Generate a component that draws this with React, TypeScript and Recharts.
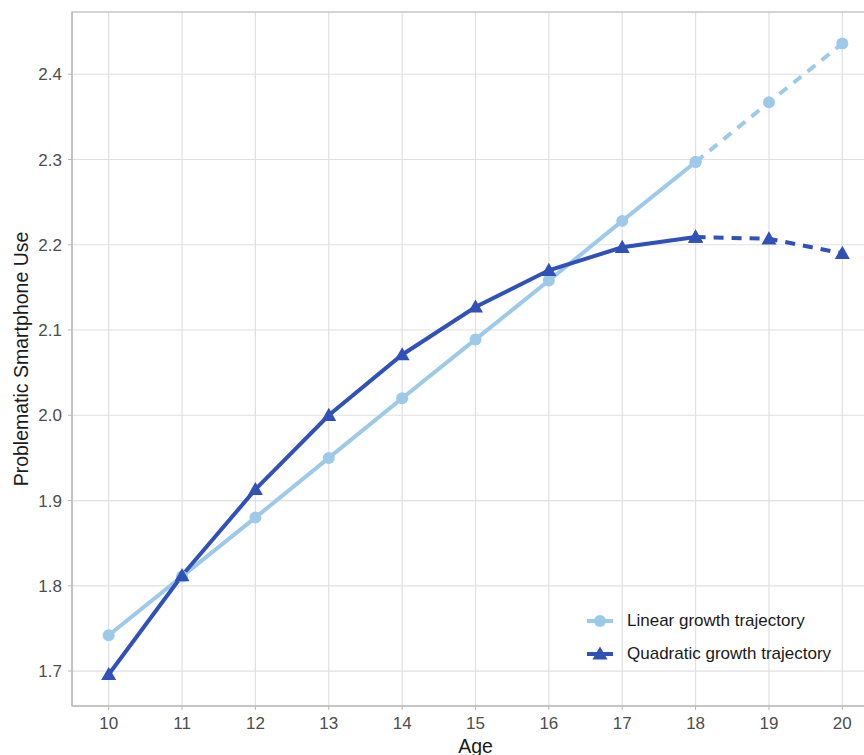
import React from 'react';
import {
  LineChart, Line, XAxis, YAxis, CartesianGrid, Label, ReferenceArea,
} from 'recharts';

const AGES = [10, 11, 12, 13, 14, 15, 16, 17, 18, 19, 20];
const LINEAR = [1.742, 1.811, 1.880, 1.950, 2.020, 2.089, 2.158, 2.228, 2.297, 2.367, 2.436];
const QUADRATIC = [1.696, 1.812, 1.913, 2.000, 2.071, 2.127, 2.170, 2.197, 2.209, 2.207, 2.190];
const Y_TICKS = [1.7, 1.8, 1.9, 2.0, 2.1, 2.2, 2.3, 2.4];
const OBSERVED_LAST = 18;

const LIGHT = '#9ccae8';
const DARK = '#3052b8';
const FONT = "'Liberation Sans', Arial, sans-serif";

const data = AGES.map((age, i) => ({
  age,
  linSolid: age <= OBSERVED_LAST ? LINEAR[i] : null,
  linDash: age >= OBSERVED_LAST ? LINEAR[i] : null,
  quadSolid: age <= OBSERVED_LAST ? QUADRATIC[i] : null,
  quadDash: age >= OBSERVED_LAST ? QUADRATIC[i] : null,
}));

const Circle = (props: any) => {
  const { cx, cy, key } = props;
  if (cx == null || cy == null) return <g key={key} />;
  return <circle key={key} cx={cx} cy={cy} r={6} fill={LIGHT} />;
};

const Triangle = (props: any) => {
  const { cx, cy, key } = props;
  if (cx == null || cy == null) return <g key={key} />;
  const s = 7.5;
  return (
    <polygon
      key={key}
      points={`${cx},${cy - s} ${cx - s},${cy + s * 0.75} ${cx + s},${cy + s * 0.75}`}
      fill={DARK}
    />
  );
};

const legendItems = [
  { name: 'Linear growth trajectory', color: LIGHT, shape: 'circle' },
  { name: 'Quadratic growth trajectory', color: DARK, shape: 'triangle' },
];

const ChartLegend = () => (
  <div style={{ position: 'absolute', left: 587, top: 604, fontFamily: FONT, fontSize: 17, color: '#1a1a1a' }}>
    {legendItems.map((it) => (
      <div key={it.name} style={{ display: 'flex', alignItems: 'center', height: 33 }}>
        <svg width={40} height={20}>
          <line x1={0} y1={10} x2={26} y2={10} stroke={it.color} strokeWidth={4} />
          {it.shape === 'circle' ? (
            <circle cx={13} cy={10} r={6} fill={it.color} />
          ) : (
            <polygon points="13,2.5 5.5,15.6 20.5,15.6" fill={it.color} />
          )}
        </svg>
        <span>{it.name}</span>
      </div>
    ))}
  </div>
);

export default function App() {
  return (
    <div style={{ position: 'fixed', left: 0, top: 0, width: 864, height: 755, overflow: 'hidden', background: '#fff' }}>
      <LineChart
        width={879}
        height={755}
        data={data}
        margin={{ top: 12, right: 0, bottom: 0, left: 0 }}
        style={{ fontFamily: FONT }}
      >
        <CartesianGrid stroke="#e0e0e0" strokeWidth={1.2} />
        <ReferenceArea x1={9.5} x2={20.5} y1={1.659} y2={2.473} fill="none" stroke="#b8b8b8" strokeWidth={1.2} />
        <XAxis
          dataKey="age"
          type="number"
          domain={[9.5, 20.5]}
          ticks={AGES}
          allowDataOverflow
          height={49}
          tickSize={4}
          tickMargin={7}
          tick={{ fill: '#4d4d4d', fontSize: 17 }}
          axisLine={{ stroke: '#b8b8b8' }}
          tickLine={{ stroke: '#b8b8b8' }}
        >
          <Label value="Age" position="center" dy={16} style={{ fill: '#1a1a1a', fontSize: 19.5 }} />
        </XAxis>
        <YAxis
          type="number"
          domain={[1.659, 2.473]}
          ticks={Y_TICKS}
          allowDataOverflow
          width={72}
          tickSize={4}
          tickMargin={6}
          tickFormatter={(v: number) => v.toFixed(1)}
          tick={{ fill: '#4d4d4d', fontSize: 17 }}
          axisLine={{ stroke: '#b8b8b8' }}
          tickLine={{ stroke: '#b8b8b8' }}
        >
          <Label value="Problematic Smartphone Use" angle={-90} position="center" dx={-15} style={{ fill: '#1a1a1a', fontSize: 19.5, textAnchor: 'middle' }} />
        </YAxis>
        <Line dataKey="linSolid" stroke={LIGHT} strokeWidth={4} dot={<Circle />} activeDot={false} isAnimationActive={false} connectNulls={false} />
        <Line dataKey="linDash" stroke={LIGHT} strokeWidth={4} strokeDasharray="10 8" dot={<Circle />} activeDot={false} isAnimationActive={false} connectNulls={false} />
        <Line dataKey="quadSolid" stroke={DARK} strokeWidth={4} dot={<Triangle />} activeDot={false} isAnimationActive={false} connectNulls={false} />
        <Line dataKey="quadDash" stroke={DARK} strokeWidth={4} strokeDasharray="10 8" dot={<Triangle />} activeDot={false} isAnimationActive={false} connectNulls={false} />
      </LineChart>
      <ChartLegend />
    </div>
  );
}
